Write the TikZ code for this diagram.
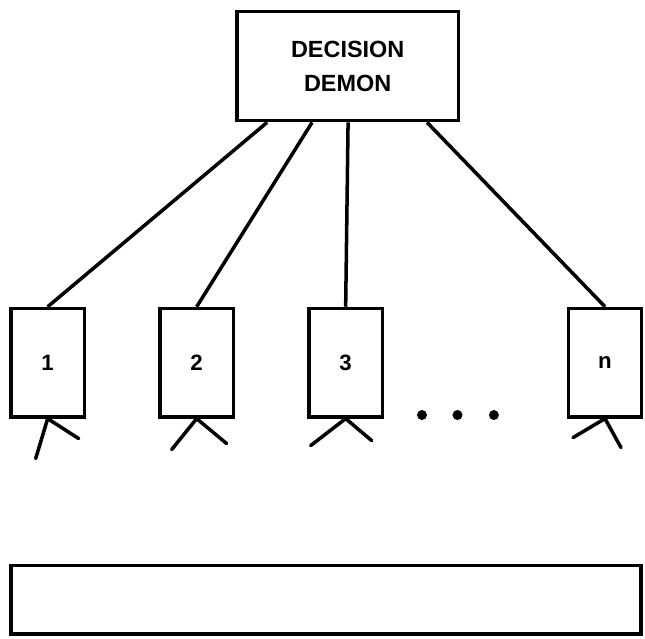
\documentclass[tikz,border=0pt]{standalone}
\usepackage{fontspec}
\setsansfont{Liberation Sans}
\usetikzlibrary{positioning}
\tikzset{
heavy/.style={line width=3pt},
demon/.style={draw, heavy, minimum width=6.65cm, minimum height=3.28cm, align=center,
	font=\sffamily\bfseries\fontsize{20}{29}\selectfont},
cell/.style={draw, heavy, minimum width=2.2cm, minimum height=3.25cm,
	font=\sffamily\bfseries\fontsize{19}{20}\selectfont},
store/.style={draw, heavy, minimum width=18.9cm, minimum height=2.05cm},
leg/.style={heavy, line cap=round, line join=round},
dot/.style={circle, fill, inner sep=0pt, minimum size=0.3cm},
}
\begin{document}
\begin{tikzpicture}[node distance=4.47cm]
	\useasboundingbox (0,0) rectangle (19.35,-19.14);
	\node[demon] (dd) at (10.43,-1.98) {DECISION\\DEMON};
	\node[cell] (c1) at (1.43,-10.88) {1};
	\node[cell, right of=c1] (c2) {2};
	\node[cell, right of=c2] (c3) {3};
	\node[cell] (cn) at (18.15,-10.88) {n};
	\node[store] (st) at (9.78,-17.99) {};
	
	%
	\node[dot] (d1) at (12.66,-12.45) {};
	\node[dot, right=0.75cm of d1] (d2) {};
	\node[dot, right=0.78cm of d2] (d3) {};
	
	%
	\coordinate (t1) at ([xshift=0.96cm]dd.south west);
	\coordinate (t2) at ([xshift=2.31cm]dd.south west);
	\coordinate (t3) at ([xshift=3.39cm]dd.south west);
	\coordinate (tn) at ([xshift=5.76cm]dd.south west);
	\draw[heavy] (t1) -- (c1.north);
	\draw[heavy] (t2) -- (c2.north);
	\draw[heavy] (t3) -- (c3.north);
	\draw[heavy] (tn) -- (cn.north);
	
	%
	\foreach \c/\lx/\ly/\rx/\ry in {c1/-0.36/-1.2/0.93/-0.6, c2/-0.75/-0.93/0.9/-0.75,
		c3/-1.05/-0.81/0.78/-0.66, cn/-0.96/-0.57/0.48/-0.87} {
		\coordinate (\c l) at ([shift={(\lx,\ly)}]\c.south);
		\coordinate (\c r) at ([shift={(\rx,\ry)}]\c.south);
		\draw[leg] (\c l) -- (\c.south) -- (\c r);
	}
\end{tikzpicture}
\end{document}
